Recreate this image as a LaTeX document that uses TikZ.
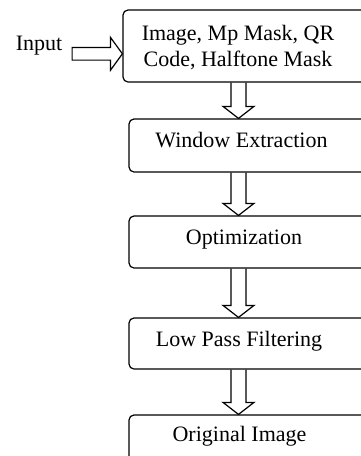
\documentclass[tikz,border=0pt]{standalone}
\usepackage{fontspec}
\setmainfont{Liberation Serif}
\usetikzlibrary{calc}
\newcommand\blockdown[2]{\draw[barrow] let \p1=(ax |- #1.south), \p2=(ax |- #2.north) in
  (\x1-7.5pt,\y1) -- (\x1-7.5pt,\y2+12pt) -- (\x1-15.5pt,\y2+12pt) -- (\x2,\y2)
  -- (\x1+15.5pt,\y2+12pt) -- (\x1+7.5pt,\y2+12pt) -- (\x1+7.5pt,\y1);}
\begin{document}
\begin{tikzpicture}[x=1pt,y=-1pt,
  box/.style={draw=black, line width=1.2pt, rounded corners=5pt, minimum width=251pt, inner sep=0pt},
  lbl/.style={font=\fontsize{22}{26}\selectfont, inner sep=0pt, text=black},
  barrow/.style={draw=black, line width=1.2pt, line join=miter}]
\useasboundingbox (0,0) rectangle (361,456);
\clip (0,0) rectangle (361,456);
\coordinate (ax) at (238.5,0);
\node[box, minimum width=257pt, minimum height=72pt] (b1) at (251.5,46) {};
\node[lbl, anchor=base, align=center] (t1) at (238,66.7) {Image, Mp Mask, QR\\Code, Halftone Mask};
\node[box, minimum height=53pt] (b2) at (254.5,145.5) {};
\node[lbl, anchor=base] (t2) at (241.5,147.7) {Window Extraction};
\node[box, minimum height=52pt] (b3) at (254.5,242) {};
\node[lbl, anchor=base] (t3) at (244,244) {Optimization};
\node[box, minimum height=51pt] (b4) at (254.5,343.5) {};
\node[lbl, anchor=base] (t4) at (239,346.7) {Low Pass Filtering};
\node[box, minimum height=60pt] (b5) at (254.5,445) {};
\node[lbl, anchor=base] (t5) at (239.5,441.7) {Original Image};
\node[lbl, anchor=base] (input) at (39,50) {Input};
\draw[barrow] let \p1=([xshift=9.7pt]input.east), \p2=([yshift=-7.8pt]b1.west) in
  (\x1,\y2+6.3pt) -- (\x2-12pt,\y2+6.3pt) -- (\x2-12pt,\y2+16.5pt) -- (\x2,\y2)
  -- (\x2-12pt,\y2-16.5pt) -- (\x2-12pt,\y2-6.3pt) -- (\x1,\y2-6.3pt) -- cycle;
\blockdown{b1}{b2}
\blockdown{b2}{b3}
\blockdown{b3}{b4}
\blockdown{b4}{b5}
\end{tikzpicture}
\end{document}
